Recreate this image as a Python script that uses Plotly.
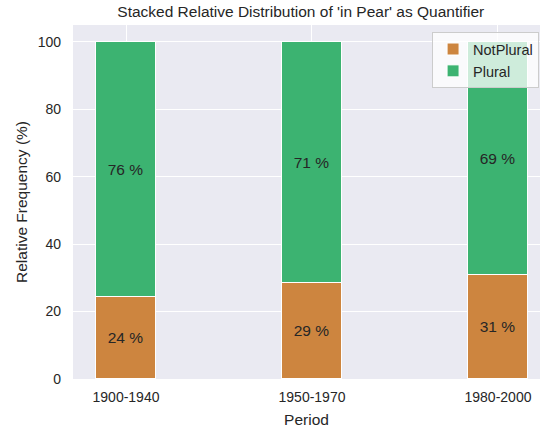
import plotly.graph_objects as go

periods = ["1900-1940", "1950-1970", "1980-2000"]
not_plural = [24.4, 28.6, 30.8]
plural = [75.6, 71.4, 69.2]
y_ticks = [0, 20, 40, 60, 80, 100]

text_color = "#262626"
font_family = "Arial, Liberation Sans, sans-serif"

fig = go.Figure()
fig.add_trace(go.Bar(
    x=list(range(len(periods))), y=not_plural, name="NotPlural",
    marker=dict(color="#CD853F", line=dict(color="white", width=1)),
    width=0.32,
    text=[f"{round(v)} %" for v in not_plural],
    textposition="inside", insidetextanchor="middle",
    textfont=dict(size=15.5, color=text_color, family=font_family),
))
fig.add_trace(go.Bar(
    x=list(range(len(periods))), y=plural, name="Plural",
    marker=dict(color="#3CB371", line=dict(color="white", width=1)),
    width=0.32,
    text=[f"{round(v)} %" for v in plural],
    textposition="inside", insidetextanchor="middle",
    textfont=dict(size=15.5, color=text_color, family=font_family),
))

fig.update_layout(
    barmode="stack",
    width=540, height=429,
    margin=dict(l=73, r=0, t=25, b=50),
    paper_bgcolor="white",
    plot_bgcolor="#EAEAF2",
    font=dict(family=font_family, color=text_color, size=14),
    title=dict(text="Stacked Relative Distribution of 'in Pear' as Quantifier",
               x=0.557, xanchor="center", y=0.972, yanchor="middle",
               font=dict(size=15.5, color=text_color)),
    xaxis=dict(
        tickmode="array", tickvals=list(range(len(periods))), ticktext=periods,
        range=[-0.285, 2.226], showgrid=True, gridcolor="white", gridwidth=1,
        zeroline=False, ticks="", ticklen=0, ticklabelstandoff=8,
        title=dict(text="Period", font=dict(size=15.5), standoff=10),
        tickfont=dict(size=14),
    ),
    yaxis=dict(
        range=[0, 105], tickvals=y_ticks, showgrid=True, gridcolor="white",
        gridwidth=1, zeroline=False, ticks="", ticklabelstandoff=11,
        title=dict(text="Relative Frequency (%)", font=dict(size=15.5), standoff=6),
        tickfont=dict(size=14),
    ),
    legend=dict(
        x=0.998, y=0.98, xanchor="right", yanchor="top",
        bgcolor="rgba(255,255,255,0.75)", bordercolor="#CCCCCC", borderwidth=1,
        font=dict(size=14.5, color=text_color), traceorder="normal",
    ),
    bargap=0,
)

fig.write_html(
    "out.html",
    config={"displayModeBar": False},
    post_script="document.body.style.margin='0';document.body.style.overflow='hidden';",
)
